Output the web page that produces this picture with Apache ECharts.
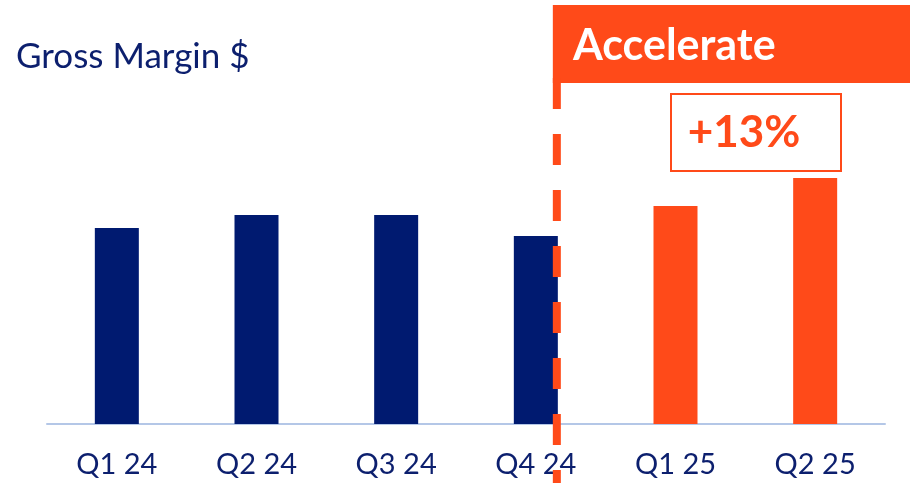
<!DOCTYPE html>
<html>
<head>
<meta charset="utf-8">
<script src="https://cdn.jsdelivr.net/npm/echarts@6/dist/echarts.min.js"></script>
<style>
  html, body { margin: 0; padding: 0; background: #ffffff; }
  #chart { width: 910px; height: 483px; }
</style>
</head>
<body>
<div id="chart"></div>
<script>
// Quarterly gross margin (relative units)
const quarters = ['Q1 24', 'Q2 24', 'Q3 24', 'Q4 24', 'Q1 25', 'Q2 25'];
const grossMargin = [196, 209, 209, 188, 218, 246];
const phase = ['base', 'base', 'base', 'base', 'accelerate', 'accelerate'];
const growthLabel = '+13%';
const phaseTitle = 'Accelerate';
const chartTitle = 'Gross Margin $';

const NAVY = '#001a70';
const ORANGE = '#ff4a19';
const TEXT_NAVY = '#0c1f6e';
const FONT = 'Lato';

const chart = echarts.init(document.getElementById('chart'), null, { renderer: 'canvas' });

const barData = grossMargin.map((v, i) => ({
  value: v,
  itemStyle: { color: phase[i] === 'accelerate' ? ORANGE : NAVY }
}));

const option = {
  animation: false,
  backgroundColor: '#ffffff',
  title: {
    text: chartTitle,
    left: 11,
    top: 34,
    textStyle: { fontFamily: FONT, fontSize: 35, fontWeight: 'normal', color: TEXT_NAVY }
  },
  grid: { left: 47, right: 25, top: 124, bottom: 59, containLabel: false },
  xAxis: {
    type: 'category',
    data: quarters,
    axisLine: { lineStyle: { color: '#b4c7e7', width: 2 } },
    axisTick: { show: false },
    axisLabel: { color: TEXT_NAVY, fontFamily: FONT, fontSize: 29, margin: 26 }
  },
  yAxis: {
    type: 'value',
    min: 0,
    max: 300,
    show: false,
    splitLine: { show: false }
  },
  series: [{
    type: 'bar',
    data: barData,
    barWidth: 44,
    z: 2
  }]
};

chart.setOption(option);

// Boundary between the two phases: right edge of the last "base" bar
const lastBase = phase.lastIndexOf('base');
const boundaryX = chart.convertToPixel({ xAxisIndex: 0 }, quarters[lastBase]) + 44 / 2 - 1;

chart.setOption({
  graphic: [
    {
      type: 'rect',
      z: 10,
      shape: { x: boundaryX - 4, y: 5, width: 910 - (boundaryX - 4), height: 78 },
      style: { fill: ORANGE }
    },
    {
      type: 'text',
      z: 11,
      style: {
        x: 573, y: 46,
        text: phaseTitle,
        fill: '#ffffff',
        font: 'bold 43px ' + FONT,
        verticalAlign: 'middle',
        align: 'left'
      }
    },
    {
      type: 'line',
      z: 10,
      shape: { x1: boundaryX, y1: 78, x2: boundaryX, y2: 483 },
      style: { stroke: ORANGE, lineWidth: 8, lineDash: [31, 25], lineCap: 'butt' }
    },
    {
      type: 'rect',
      z: 10,
      shape: { x: 671, y: 94, width: 170, height: 77 },
      style: { fill: '#ffffff', stroke: ORANGE, lineWidth: 2 }
    },
    {
      type: 'text',
      z: 11,
      style: {
        x: 744, y: 133,
        text: growthLabel,
        fill: ORANGE,
        font: 'bold 44px ' + FONT,
        verticalAlign: 'middle',
        align: 'center'
      }
    }
  ]
});
</script>
</body>
</html>
